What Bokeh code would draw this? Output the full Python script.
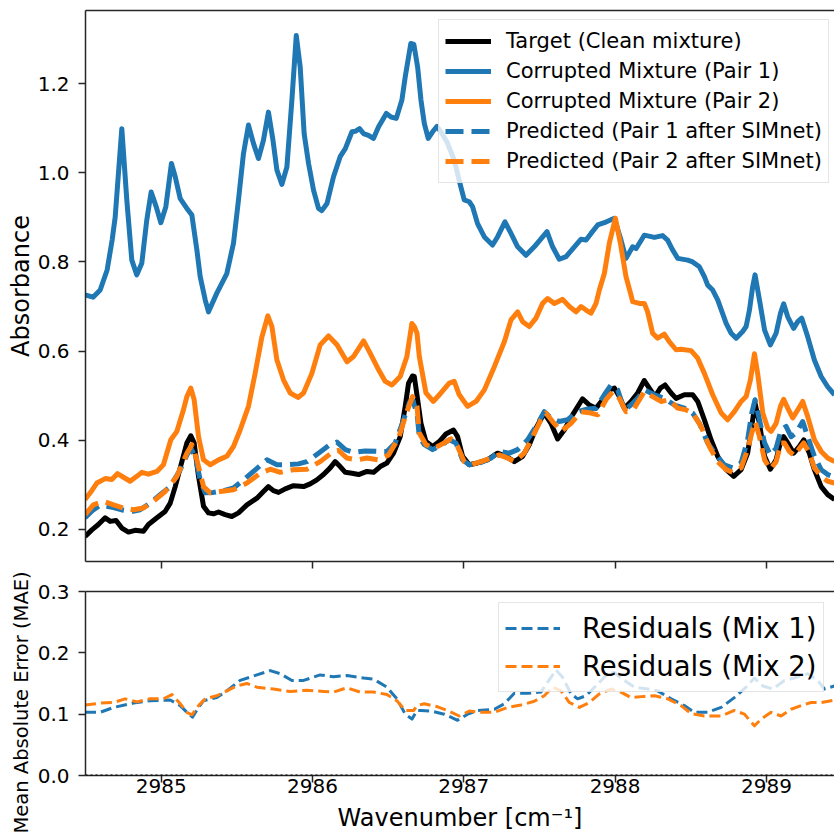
from bokeh.plotting import figure
from bokeh.layouts import column
from bokeh.models import (Range1d, FixedTicker, NumeralTickFormatter, Legend, LegendItem, Span,
                          LinearAxis, Title)
from bokeh.embed import file_html
from bokeh.resources import INLINE

# ---------------- data ----------------
x_ticks = [2985, 2986, 2987, 2988, 2989]
y_ticks_top = [0.2, 0.4, 0.6, 0.8, 1.0, 1.2]
y_ticks_bot = [0.0, 0.1, 0.2, 0.3]

target_x = [2984.497, 2984.542, 2984.585, 2984.630, 2984.663, 2984.702, 2984.740, 2984.784, 2984.828, 2984.883,
            2984.916, 2984.972, 2985.026, 2985.060, 2985.093, 2985.137, 2985.170, 2985.196, 2985.218, 2985.247,
            2985.280, 2985.313, 2985.346, 2985.379, 2985.423, 2985.467, 2985.511, 2985.567, 2985.633, 2985.676,
            2985.709, 2985.742, 2985.776, 2985.820, 2985.875, 2985.941, 2985.985, 2986.029, 2986.073, 2986.117,
            2986.150, 2986.183, 2986.217, 2986.261, 2986.305, 2986.360, 2986.404, 2986.448, 2986.492, 2986.536,
            2986.580, 2986.613, 2986.635, 2986.661, 2986.673, 2986.695, 2986.717, 2986.750, 2986.794, 2986.838,
            2986.882, 2986.932, 2986.959, 2986.992, 2987.036, 2987.091, 2987.157, 2987.223, 2987.279, 2987.334,
            2987.389, 2987.433, 2987.477, 2987.532, 2987.576, 2987.620, 2987.664, 2987.719, 2987.785, 2987.830,
            2987.874, 2987.918, 2987.962, 2987.995, 2988.028, 2988.061, 2988.105, 2988.149, 2988.193, 2988.226,
            2988.264, 2988.299, 2988.330, 2988.370, 2988.403, 2988.458, 2988.513, 2988.546, 2988.590, 2988.634,
            2988.678, 2988.734, 2988.784, 2988.833, 2988.876, 2988.903, 2988.925, 2988.954, 2988.988, 2989.026,
            2989.064, 2989.097, 2989.114, 2989.141, 2989.180, 2989.218, 2989.247, 2989.284, 2989.317, 2989.362,
            2989.405, 2989.450]
target_y = [0.184, 0.199, 0.211, 0.226, 0.218, 0.220, 0.203, 0.194, 0.198, 0.196,
            0.211, 0.226, 0.240, 0.259, 0.296, 0.352, 0.394, 0.410, 0.394, 0.319,
            0.252, 0.237, 0.235, 0.239, 0.233, 0.229, 0.237, 0.255, 0.270, 0.285,
            0.296, 0.287, 0.283, 0.291, 0.298, 0.296, 0.302, 0.311, 0.323, 0.338,
            0.352, 0.341, 0.328, 0.326, 0.323, 0.330, 0.328, 0.341, 0.349, 0.371,
            0.408, 0.476, 0.528, 0.544, 0.543, 0.491, 0.438, 0.397, 0.386, 0.397,
            0.414, 0.423, 0.408, 0.364, 0.345, 0.349, 0.356, 0.371, 0.364, 0.352,
            0.364, 0.390, 0.427, 0.461, 0.438, 0.403, 0.423, 0.457, 0.493, 0.479,
            0.472, 0.491, 0.513, 0.517, 0.498, 0.472, 0.487, 0.506, 0.534, 0.517,
            0.498, 0.517, 0.524, 0.506, 0.494, 0.502, 0.502, 0.487, 0.446, 0.401,
            0.364, 0.334, 0.319, 0.334, 0.371, 0.431, 0.483, 0.438, 0.364, 0.335,
            0.356, 0.401, 0.408, 0.394, 0.371, 0.386, 0.401, 0.371, 0.334, 0.296,
            0.278, 0.267]

corr1_x = [2984.497, 2984.550, 2984.597, 2984.643, 2984.676, 2984.696, 2984.711, 2984.740, 2984.773, 2984.806,
           2984.839, 2984.872, 2984.905, 2984.934, 2984.967, 2984.998, 2985.031, 2985.068, 2985.093, 2985.126,
           2985.170, 2985.203, 2985.236, 2985.258, 2985.291, 2985.313, 2985.368, 2985.434, 2985.478, 2985.511,
           2985.544, 2985.577, 2985.610, 2985.643, 2985.676, 2985.709, 2985.739, 2985.765, 2985.798, 2985.831,
           2985.864, 2985.893, 2985.919, 2985.945, 2985.974, 2986.007, 2986.040, 2986.062, 2986.096, 2986.139,
           2986.183, 2986.217, 2986.261, 2986.283, 2986.311, 2986.337, 2986.370, 2986.403, 2986.437, 2986.488,
           2986.519, 2986.554, 2986.591, 2986.613, 2986.650, 2986.670, 2986.695, 2986.717, 2986.739, 2986.765,
           2986.794, 2986.823, 2986.849, 2986.893, 2986.937, 2986.981, 2987.003, 2987.036, 2987.058, 2987.091,
           2987.136, 2987.190, 2987.223, 2987.272, 2987.312, 2987.356, 2987.411, 2987.466, 2987.550, 2987.587,
           2987.631, 2987.676, 2987.731, 2987.775, 2987.808, 2987.841, 2987.885, 2987.929, 2987.995, 2988.039,
           2988.072, 2988.116, 2988.139, 2988.193, 2988.260, 2988.314, 2988.347, 2988.380, 2988.414, 2988.480,
           2988.513, 2988.557, 2988.590, 2988.612, 2988.645, 2988.678, 2988.734, 2988.767, 2988.800, 2988.843,
           2988.866, 2988.888, 2988.909, 2988.925, 2988.954, 2988.988, 2989.026, 2989.064, 2989.093, 2989.114,
           2989.141, 2989.180, 2989.207, 2989.233, 2989.273, 2989.317, 2989.362, 2989.405, 2989.450]
corr1_y = [0.726, 0.721, 0.737, 0.782, 0.849, 0.900, 0.968, 1.099, 0.939, 0.804,
           0.771, 0.797, 0.894, 0.957, 0.924, 0.888, 0.924, 1.021, 0.991, 0.942,
           0.920, 0.905, 0.827, 0.767, 0.715, 0.688, 0.730, 0.774, 0.842, 0.939,
           1.043, 1.107, 1.066, 1.032, 1.073, 1.136, 1.073, 1.006, 0.974, 1.013,
           1.163, 1.308, 1.237, 1.088, 1.021, 0.961, 0.920, 0.915, 0.931, 0.991,
           1.036, 1.054, 1.092, 1.093, 1.099, 1.088, 1.084, 1.077, 1.103, 1.133,
           1.125, 1.122, 1.163, 1.215, 1.290, 1.288, 1.237, 1.163, 1.111, 1.077,
           1.092, 1.104, 1.092, 1.066, 1.028, 0.968, 0.939, 0.935, 0.924, 0.886,
           0.856, 0.838, 0.856, 0.890, 0.864, 0.834, 0.815, 0.834, 0.868, 0.834,
           0.806, 0.812, 0.834, 0.851, 0.849, 0.864, 0.883, 0.888, 0.898, 0.849,
           0.808, 0.834, 0.830, 0.860, 0.855, 0.859, 0.849, 0.827, 0.808, 0.804,
           0.800, 0.789, 0.767, 0.748, 0.737, 0.715, 0.662, 0.640, 0.629, 0.644,
           0.655, 0.692, 0.744, 0.771, 0.715, 0.647, 0.614, 0.640, 0.685, 0.706,
           0.677, 0.651, 0.666, 0.674, 0.632, 0.580, 0.543, 0.520, 0.502]

corr2_x = [2984.497, 2984.531, 2984.575, 2984.630, 2984.674, 2984.711, 2984.751, 2984.795, 2984.839, 2984.872,
           2984.916, 2984.972, 2985.015, 2985.064, 2985.104, 2985.147, 2985.170, 2985.196, 2985.218, 2985.247,
           2985.280, 2985.324, 2985.379, 2985.434, 2985.478, 2985.522, 2985.577, 2985.621, 2985.666, 2985.705,
           2985.732, 2985.765, 2985.809, 2985.853, 2985.904, 2985.941, 2985.996, 2986.051, 2986.106, 2986.162,
           2986.228, 2986.272, 2986.338, 2986.382, 2986.437, 2986.481, 2986.525, 2986.580, 2986.624, 2986.657,
           2986.673, 2986.691, 2986.706, 2986.750, 2986.798, 2986.849, 2986.904, 2986.937, 2986.970, 2987.025,
           2987.081, 2987.136, 2987.202, 2987.268, 2987.312, 2987.356, 2987.389, 2987.433, 2987.477, 2987.521,
           2987.554, 2987.598, 2987.653, 2987.698, 2987.742, 2987.775, 2987.808, 2987.841, 2987.874, 2987.896,
           2987.929, 2987.962, 2988.002, 2988.035, 2988.072, 2988.105, 2988.116, 2988.160, 2988.193, 2988.215,
           2988.248, 2988.281, 2988.325, 2988.358, 2988.403, 2988.436, 2988.502, 2988.546, 2988.590, 2988.645,
           2988.701, 2988.744, 2988.788, 2988.833, 2988.866, 2988.894, 2988.921, 2988.942, 2988.976, 2989.009,
           2989.031, 2989.064, 2989.093, 2989.114, 2989.141, 2989.174, 2989.207, 2989.240, 2989.273, 2989.317,
           2989.362, 2989.405, 2989.450]
corr2_y = [0.267, 0.282, 0.304, 0.314, 0.312, 0.325, 0.317, 0.308, 0.319, 0.328,
           0.324, 0.330, 0.345, 0.401, 0.420, 0.468, 0.498, 0.517, 0.491, 0.408,
           0.356, 0.345, 0.356, 0.364, 0.386, 0.423, 0.476, 0.550, 0.632, 0.679,
           0.655, 0.580, 0.535, 0.506, 0.496, 0.506, 0.550, 0.614, 0.634, 0.614,
           0.576, 0.588, 0.623, 0.595, 0.558, 0.532, 0.524, 0.543, 0.588, 0.662,
           0.655, 0.640, 0.588, 0.506, 0.487, 0.506, 0.528, 0.532, 0.502, 0.476,
           0.487, 0.513, 0.565, 0.621, 0.670, 0.688, 0.666, 0.655, 0.674, 0.707,
           0.718, 0.707, 0.716, 0.700, 0.688, 0.700, 0.692, 0.685, 0.707, 0.737,
           0.774, 0.842, 0.898, 0.842, 0.767, 0.726, 0.711, 0.707, 0.707, 0.688,
           0.640, 0.629, 0.638, 0.621, 0.603, 0.604, 0.601, 0.584, 0.550, 0.502,
           0.461, 0.446, 0.464, 0.487, 0.498, 0.535, 0.594, 0.550, 0.461, 0.427,
           0.420, 0.438, 0.476, 0.492, 0.472, 0.450, 0.468, 0.487, 0.453, 0.401,
           0.375, 0.360, 0.352]

pred1_x = [2984.497, 2984.552, 2984.597, 2984.641, 2984.685, 2984.751, 2984.806, 2984.861, 2984.927, 2984.993,
           2985.060, 2985.126, 2985.170, 2985.196, 2985.225, 2985.258, 2985.291, 2985.346, 2985.412, 2985.478,
           2985.544, 2985.610, 2985.699, 2985.765, 2985.831, 2985.908, 2985.963, 2986.040, 2986.106, 2986.162,
           2986.217, 2986.272, 2986.349, 2986.426, 2986.492, 2986.547, 2986.602, 2986.641, 2986.661, 2986.691,
           2986.706, 2986.739, 2986.794, 2986.849, 2986.904, 2986.948, 2986.992, 2987.036, 2987.114, 2987.180,
           2987.235, 2987.301, 2987.356, 2987.422, 2987.477, 2987.532, 2987.576, 2987.631, 2987.686, 2987.752,
           2987.819, 2987.874, 2987.929, 2987.973, 2988.017, 2988.061, 2988.105, 2988.149, 2988.193, 2988.260,
           2988.326, 2988.392, 2988.458, 2988.513, 2988.557, 2988.612, 2988.667, 2988.722, 2988.777, 2988.833,
           2988.876, 2988.903, 2988.925, 2988.954, 2988.988, 2989.026, 2989.064, 2989.097, 2989.130, 2989.163,
           2989.194, 2989.240, 2989.273, 2989.317, 2989.362, 2989.405, 2989.450]
pred1_y = [0.226, 0.244, 0.254, 0.252, 0.249, 0.243, 0.240, 0.244, 0.259, 0.278,
           0.296, 0.334, 0.367, 0.382, 0.364, 0.311, 0.282, 0.283, 0.287, 0.293,
           0.311, 0.330, 0.356, 0.345, 0.345, 0.347, 0.352, 0.371, 0.388, 0.396,
           0.379, 0.373, 0.376, 0.375, 0.375, 0.394, 0.446, 0.485, 0.490, 0.461,
           0.408, 0.390, 0.379, 0.388, 0.401, 0.394, 0.356, 0.345, 0.350, 0.360,
           0.375, 0.371, 0.379, 0.401, 0.431, 0.464, 0.450, 0.442, 0.446, 0.464,
           0.470, 0.472, 0.502, 0.524, 0.513, 0.468, 0.479, 0.494, 0.513, 0.502,
           0.494, 0.479, 0.472, 0.461, 0.438, 0.394, 0.367, 0.345, 0.338, 0.349,
           0.401, 0.461, 0.491, 0.446, 0.394, 0.367, 0.382, 0.423, 0.431, 0.408,
           0.416, 0.442, 0.408, 0.364, 0.334, 0.323, 0.317]

pred2_x = [2984.497, 2984.552, 2984.619, 2984.685, 2984.751, 2984.817, 2984.883, 2984.949, 2985.026, 2985.104,
           2985.170, 2985.203, 2985.236, 2985.280, 2985.324, 2985.390, 2985.478, 2985.567, 2985.655, 2985.721,
           2985.787, 2985.875, 2985.963, 2986.051, 2986.139, 2986.172, 2986.228, 2986.294, 2986.360, 2986.437,
           2986.503, 2986.569, 2986.624, 2986.661, 2986.691, 2986.706, 2986.750, 2986.805, 2986.871, 2986.915,
           2986.959, 2987.003, 2987.048, 2987.114, 2987.180, 2987.235, 2987.290, 2987.334, 2987.400, 2987.455,
           2987.510, 2987.543, 2987.587, 2987.643, 2987.709, 2987.775, 2987.841, 2987.885, 2987.940, 2987.984,
           2988.028, 2988.072, 2988.127, 2988.193, 2988.248, 2988.304, 2988.358, 2988.414, 2988.469, 2988.513,
           2988.568, 2988.623, 2988.678, 2988.734, 2988.777, 2988.833, 2988.876, 2988.903, 2988.925, 2988.954,
           2988.988, 2989.026, 2989.064, 2989.097, 2989.119, 2989.152, 2989.185, 2989.218, 2989.247, 2989.284,
           2989.317, 2989.362, 2989.405, 2989.450]
pred2_y = [0.233, 0.255, 0.263, 0.255, 0.248, 0.244, 0.248, 0.263, 0.285, 0.319,
           0.371, 0.390, 0.356, 0.296, 0.282, 0.285, 0.289, 0.304, 0.326, 0.335,
           0.328, 0.334, 0.335, 0.352, 0.375, 0.377, 0.360, 0.356, 0.360, 0.356,
           0.367, 0.405, 0.464, 0.498, 0.476, 0.416, 0.390, 0.382, 0.394, 0.403,
           0.386, 0.352, 0.345, 0.352, 0.360, 0.367, 0.360, 0.352, 0.371, 0.408,
           0.446, 0.461, 0.442, 0.420, 0.438, 0.464, 0.461, 0.457, 0.491, 0.509,
           0.494, 0.464, 0.472, 0.509, 0.498, 0.487, 0.491, 0.472, 0.468, 0.461,
           0.431, 0.386, 0.352, 0.334, 0.328, 0.338, 0.379, 0.416, 0.442, 0.408,
           0.356, 0.335, 0.352, 0.394, 0.394, 0.375, 0.365, 0.382, 0.394, 0.371,
           0.338, 0.319, 0.308, 0.304]

res1_x = [2984.497, 2984.597, 2984.685, 2984.817, 2984.927, 2985.060, 2985.126, 2985.170, 2985.207, 2985.247,
          2985.280, 2985.368, 2985.434, 2985.522, 2985.633, 2985.721, 2985.787, 2985.864, 2985.941, 2986.051,
          2986.139, 2986.228, 2986.338, 2986.404, 2986.492, 2986.558, 2986.613, 2986.658, 2986.691, 2986.717,
          2986.783, 2986.871, 2986.959, 2987.025, 2987.091, 2987.202, 2987.268, 2987.334, 2987.422, 2987.510,
          2987.576, 2987.609, 2987.653, 2987.709, 2987.752, 2987.808, 2987.885, 2987.951, 2987.995, 2988.061,
          2988.127, 2988.215, 2988.281, 2988.370, 2988.458, 2988.524, 2988.612, 2988.701, 2988.788, 2988.866,
          2988.921, 2988.976, 2989.042, 2989.119, 2989.185, 2989.273, 2989.339, 2989.383, 2989.450]
res1_y = [0.103, 0.103, 0.111, 0.118, 0.122, 0.123, 0.114, 0.103, 0.095, 0.111,
          0.122, 0.127, 0.138, 0.155, 0.164, 0.171, 0.166, 0.155, 0.155, 0.164,
          0.161, 0.163, 0.159, 0.157, 0.144, 0.125, 0.100, 0.092, 0.106, 0.106,
          0.105, 0.100, 0.090, 0.100, 0.106, 0.108, 0.117, 0.134, 0.134, 0.136,
          0.160, 0.172, 0.160, 0.133, 0.125, 0.130, 0.149, 0.166, 0.168, 0.155,
          0.144, 0.141, 0.138, 0.125, 0.114, 0.103, 0.103, 0.111, 0.127, 0.144,
          0.159, 0.146, 0.141, 0.155, 0.159, 0.166, 0.155, 0.141, 0.146]

res2_x = [2984.497, 2984.597, 2984.685, 2984.762, 2984.839, 2984.927, 2985.015, 2985.071, 2985.126, 2985.170,
          2985.203, 2985.247, 2985.291, 2985.368, 2985.434, 2985.499, 2985.567, 2985.633, 2985.742, 2985.853,
          2985.963, 2986.073, 2986.139, 2986.228, 2986.316, 2986.404, 2986.492, 2986.558, 2986.613, 2986.668,
          2986.693, 2986.739, 2986.827, 2986.893, 2986.970, 2987.036, 2987.114, 2987.202, 2987.290, 2987.378,
          2987.466, 2987.532, 2987.587, 2987.643, 2987.698, 2987.764, 2987.830, 2987.896, 2987.972, 2988.039,
          2988.105, 2988.193, 2988.260, 2988.348, 2988.436, 2988.502, 2988.590, 2988.701, 2988.788, 2988.855,
          2988.921, 2988.965, 2989.031, 2989.097, 2989.163, 2989.229, 2989.295, 2989.362, 2989.450]
res2_y = [0.115, 0.118, 0.119, 0.125, 0.120, 0.125, 0.125, 0.132, 0.117, 0.103,
          0.099, 0.114, 0.125, 0.130, 0.138, 0.146, 0.150, 0.144, 0.141, 0.137,
          0.139, 0.137, 0.136, 0.143, 0.136, 0.136, 0.132, 0.122, 0.106, 0.106,
          0.114, 0.117, 0.112, 0.106, 0.097, 0.105, 0.103, 0.103, 0.111, 0.115,
          0.121, 0.130, 0.144, 0.138, 0.119, 0.111, 0.119, 0.133, 0.141, 0.136,
          0.127, 0.129, 0.130, 0.125, 0.114, 0.101, 0.097, 0.097, 0.106, 0.100,
          0.081, 0.092, 0.103, 0.097, 0.108, 0.114, 0.119, 0.119, 0.123]

# ---------------- style ----------------
BLUE = "#1f77b4"
ORANGE = "#ff7f0e"
FONT = "DejaVu Sans"
AX = "#262626"

x_range = Range1d(2984.5, 2989.45)


def style(p):
    """Style the bottom and left axes; returns them."""
    p.xgrid.visible = False
    p.ygrid.visible = False
    p.outline_line_color = None
    p.background_fill_color = "white"
    p.border_fill_color = "white"
    xa = p.below[0]
    ya = p.left[0]
    for ax in (xa, ya):
        ax.axis_line_color = AX
        ax.axis_line_width = 1.5
        ax.major_tick_line_color = AX
        ax.major_tick_line_width = 1.5
        ax.major_tick_out = 7
        ax.major_tick_in = 0
        ax.minor_tick_line_color = None
        ax.major_label_text_font = FONT
        ax.major_label_text_font_size = "20px"
        ax.major_label_text_color = "black"
        ax.axis_label_text_font = FONT
        ax.axis_label_text_font_style = "normal"
        ax.axis_label_text_color = "black"
    xa.ticker = FixedTicker(ticks=x_ticks)
    # top spine only (no right spine: the reference frame runs past the window edge)
    top = LinearAxis(ticker=FixedTicker(ticks=[]), axis_line_color=AX, axis_line_width=1.5,
                     major_tick_out=0, major_tick_in=0, major_label_standoff=0,
                     minor_tick_line_color=None, major_tick_line_color=None,
                     major_label_text_font_size="0px", major_label_text_color=None)
    p.add_layout(top, "above")
    return xa, ya


p1 = figure(width=834, height=569, x_range=x_range, y_range=Range1d(0.128, 1.364),
            output_backend="svg", toolbar_location=None,
            min_border_left=85, min_border_right=0, min_border_top=10, min_border_bottom=8)
xa1, ya1 = style(p1)
xa1.major_label_text_font_size = "0px"
xa1.major_label_text_color = None
xa1.major_label_standoff = 0
ya1.ticker = FixedTicker(ticks=y_ticks_top)
ya1.formatter = NumeralTickFormatter(format="0.0")
ya1.axis_label = "Absorbance"
ya1.axis_label_text_font_size = "24px"
ya1.major_label_standoff = 9
ya1.axis_label_standoff = 0

r_t = p1.line(target_x, target_y, line_color="black", line_width=5, line_join="round")
r_c1 = p1.line(corr1_x, corr1_y, line_color=BLUE, line_width=5, line_join="round")
r_c2 = p1.line(corr2_x, corr2_y, line_color=ORANGE, line_width=5, line_join="round")
r_p1 = p1.line(pred1_x, pred1_y, line_color=BLUE, line_width=5, line_dash="18 8", line_join="round")
r_p2 = p1.line(pred2_x, pred2_y, line_color=ORANGE, line_width=5, line_dash="18 8", line_join="round")

leg1 = Legend(items=[
    LegendItem(label="Target (Clean mixture)", renderers=[r_t]),
    LegendItem(label="Corrupted Mixture (Pair 1)", renderers=[r_c1]),
    LegendItem(label="Corrupted Mixture (Pair 2)", renderers=[r_c2]),
    LegendItem(label="Predicted (Pair 1 after SIMnet)", renderers=[r_p1]),
    LegendItem(label="Predicted (Pair 2 after SIMnet)", renderers=[r_p2]),
], location=(353, 378))
leg1.margin = 0
leg1.padding = 6
leg1.spacing = 0
leg1.glyph_width = 46
leg1.glyph_height = 30
leg1.label_height = 30
leg1.label_standoff = 15
leg1.label_text_font = FONT
leg1.label_text_font_size = "21px"
leg1.label_text_color = "black"
leg1.border_line_color = "#cccccc"
leg1.border_line_width = 1.5
leg1.background_fill_color = "white"
leg1.background_fill_alpha = 0.8
p1.add_layout(leg1)

p2 = figure(width=834, height=266, x_range=x_range, y_range=Range1d(0.0, 0.3),
            output_backend="svg", toolbar_location=None,
            min_border_left=85, min_border_right=0, min_border_top=22, min_border_bottom=60)
xa2, ya2 = style(p2)
ya2.ticker = FixedTicker(ticks=y_ticks_bot)
ya2.formatter = NumeralTickFormatter(format="0.0")
ya2.major_label_standoff = 9
xa2.axis_label = "Wavenumber [cm\u207b\u00b9]"
xa2.axis_label_text_font_size = "24px"
xa2.major_label_standoff = -4
xa2.axis_label_standoff = 8

# y label of the lower panel (longer than its panel): a side title that starts
# below the frame so that the whole text stays on the page
p2.add_layout(Title(text="Mean Absolute Error (MAE)", align="left", offset=-58,
                    text_font=FONT, text_font_size="19.5px", text_font_style="normal",
                    text_color="black", standoff=4), "left")

p2.add_layout(Span(location=0, dimension="width", line_color="black", line_width=2, line_dash="2 3"))
r_r1 = p2.line(res1_x, res1_y, line_color=BLUE, line_width=3, line_dash="11 5", line_join="round")
r_r2 = p2.line(res2_x, res2_y, line_color=ORANGE, line_width=3, line_dash="11 5", line_join="round")

leg2 = Legend(items=[
    LegendItem(label="Residuals (Mix 1)", renderers=[r_r1]),
    LegendItem(label="Residuals (Mix 2)", renderers=[r_r2]),
], location=(413, 83))
leg2.margin = 0
leg2.padding = 6
leg2.spacing = 0
leg2.glyph_width = 55
leg2.glyph_height = 38
leg2.label_height = 38
leg2.label_standoff = 22
leg2.label_text_font = FONT
leg2.label_text_font_size = "27.5px"
leg2.label_text_color = "black"
leg2.border_line_color = "#cccccc"
leg2.border_line_width = 1.5
leg2.background_fill_color = "white"
leg2.background_fill_alpha = 0.8
p2.add_layout(leg2)

layout = column(p1, p2, spacing=0)
open("out.html", "w").write(file_html(layout, INLINE))
